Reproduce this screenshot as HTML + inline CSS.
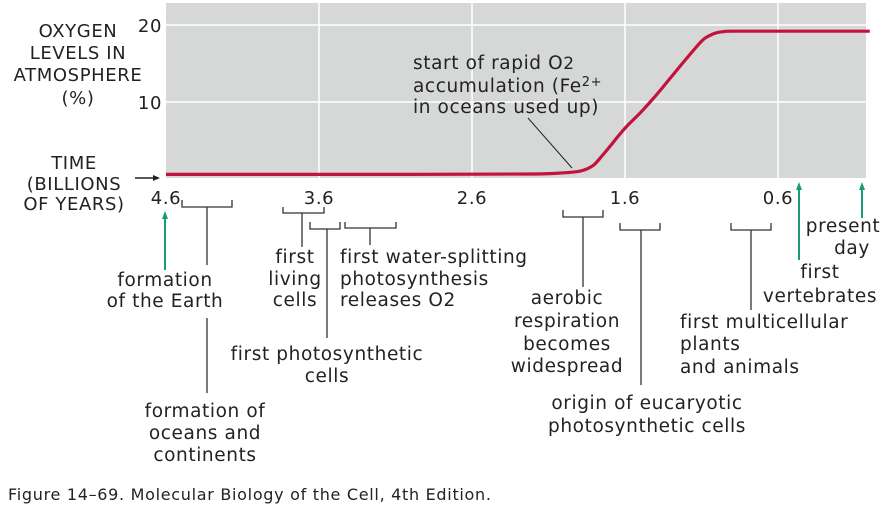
<!DOCTYPE html>
<html><head><meta charset="utf-8">
<style>
html,body{margin:0;padding:0;background:#fff;}
svg{display:block;font-family:"DejaVu Sans","Liberation Sans",sans-serif;letter-spacing:0.6px;}
text{fill:#222;}
</style></head>
<body>
<svg id="chart" width="883" height="510" viewBox="0 0 883 510">
<rect x="166" y="3" width="700" height="175" fill="#d5d8d6"/>
<g id="grid"></g>
<g id="ylabels"></g>
<g id="xlabels"></g>
<path id="o2line" fill="none" stroke="#c4123e" stroke-width="3.2" stroke-linejoin="round"/>
<g font-size="18" text-anchor="middle">
<text x="78" y="37">OXYGEN</text><text x="78" y="59">LEVELS IN</text><text x="78" y="81">ATMOSPHERE</text><text x="78" y="104">(%)</text>
</g>
<g font-size="18" text-anchor="middle">
<text x="74" y="169">TIME</text><text x="74" y="190">(BILLIONS</text><text x="74" y="210">OF YEARS)</text>
</g>
<g><line x1="135" y1="178" x2="156" y2="178" stroke="#222" stroke-width="1.5"/><path d="M160 178 L153 175 L153 181 Z" fill="#222"/></g>
<g font-size="18.5">
<text x="413" y="69">start of rapid O<tspan font-size="17">2</tspan></text>
<text x="413" y="92">accumulation (Fe<tspan font-size="13" dy="-6">2+</tspan></text>
<text x="413" y="113">in oceans used up)</text>
<line x1="528" y1="118" x2="572" y2="168" stroke="#222" stroke-width="1"/>
</g>
<g stroke="#333" stroke-width="1.3" fill="none">
<path d="M182 200 V207 H232 V200 M207 207 V265 M207 318 V393"/>
<path d="M283 207 V213 H324 V207 M302 213 V247"/>
<path d="M310 222 V229 H340 V222 M327 229 V338"/>
<path d="M345 222 V228 H396 V222 M370 228 V245"/>
<path d="M563 210 V217 H603 V210 M583 217 V287"/>
<path d="M620 223 V230 H660 V223 M641 230 V385"/>
<path d="M731 223 V230 H771 V223 M751 230 V310"/>
</g>
<g stroke="#1a9a7a" stroke-width="2" fill="#1a9a7a">
<line x1="165" y1="218" x2="165" y2="270"/><path d="M165 211 L162 219 L168 219 Z" stroke="none"/>
<line x1="799" y1="189" x2="799" y2="260"/><path d="M799 182 L796 190 L802 190 Z" stroke="none"/>
<line x1="862" y1="189" x2="862" y2="218"/><path d="M862 182 L859 190 L865 190 Z" stroke="none"/>
</g>
<g font-size="18.5">
<text text-anchor="middle" x="165" y="286">formation</text><text text-anchor="middle" x="165" y="307">of the Earth</text>
<text text-anchor="middle" x="205" y="417">formation of</text><text text-anchor="middle" x="205" y="439">oceans and</text><text text-anchor="middle" x="205" y="461">continents</text>
<text text-anchor="middle" x="295" y="263">first</text><text text-anchor="middle" x="295" y="285">living</text><text text-anchor="middle" x="295" y="306">cells</text>
<text text-anchor="middle" x="327" y="360">first photosynthetic</text><text text-anchor="middle" x="327" y="382">cells</text>
<text x="340" y="263">first water-splitting</text><text x="340" y="285">photosynthesis</text><text x="340" y="306">releases O2</text>
<text text-anchor="middle" x="567" y="304">aerobic</text><text text-anchor="middle" x="567" y="327">respiration</text><text text-anchor="middle" x="567" y="350">becomes</text><text text-anchor="middle" x="567" y="372">widespread</text>
<text text-anchor="middle" x="647" y="409">origin of eucaryotic</text><text text-anchor="middle" x="647" y="432">photosynthetic cells</text>
<text x="680" y="328">first multicellular</text><text x="680" y="350">plants</text><text x="680" y="373">and animals</text>
<text text-anchor="middle" x="820" y="278">first</text><text text-anchor="middle" x="820" y="302">vertebrates</text>
<text text-anchor="middle" x="843" y="232">present</text><text text-anchor="middle" x="852" y="254">day</text>
</g>
<text x="8" y="500" font-size="16" style="letter-spacing:0.7px">Figure 14–69. Molecular Biology of the Cell, 4th Edition.</text>
</svg>
<script>
const times = [4.6,3.0,2.2,2.0,1.9,1.85,1.8,1.75,1.7,1.6,1.5,1.4,1.3,1.2,1.1,1.05,1.0,0.95,0.9,0.6,0.0];
const oxygen = [0.6,0.6,0.65,0.8,1.0,1.3,1.9,3.0,4.2,6.6,8.6,10.8,13.2,15.6,17.9,18.6,19.0,19.15,19.2,19.2,19.2];
const xTicks = [4.6,3.6,2.6,1.6,0.6];
const xTickLabels = ["4.6","3.6","2.6","1.6","0.6"];
const yTicks = [10,20];
const yTickLabels = ["10","20"];
const NS="http://www.w3.org/2000/svg";
function xs(t){return 166+(4.6-t)*153;}
function ys(v){return 179-7.7*v;}
const grid=document.getElementById('grid');
xTicks.forEach((t,i)=>{ if(i===0) return;
  const l=document.createElementNS(NS,'line');
  l.setAttribute('x1',xs(t));l.setAttribute('x2',xs(t));l.setAttribute('y1',3);l.setAttribute('y2',178);
  l.setAttribute('stroke','#fff');l.setAttribute('stroke-width','1.5');
  
  
  grid.appendChild(l);});
yTicks.forEach(v=>{
  const l=document.createElementNS(NS,'line');
  l.setAttribute('x1',166);l.setAttribute('x2',866);l.setAttribute('y1',ys(v));l.setAttribute('y2',ys(v));
  l.setAttribute('stroke','#fff');l.setAttribute('stroke-width','1.5');
  
  
  grid.appendChild(l);});
const yl=document.getElementById('ylabels');
yTicks.forEach((v,i)=>{
  const t=document.createElementNS(NS,'text');
  t.setAttribute('x',162);t.setAttribute('y',ys(v)+7);t.setAttribute('text-anchor','end');t.setAttribute('font-size','18');
  t.textContent=yTickLabels[i];
  
  
  yl.appendChild(t);});
const xl=document.getElementById('xlabels');
xTicks.forEach((v,i)=>{
  const t=document.createElementNS(NS,'text');
  t.setAttribute('x',xs(v));t.setAttribute('y',204);t.setAttribute('text-anchor','middle');t.setAttribute('font-size','18');
  t.textContent=xTickLabels[i];
  
  
  xl.appendChild(t);});
const pts=times.map((t,i)=>[xs(t),ys(oxygen[i])]);
let d='M'+pts[0][0].toFixed(1)+' '+pts[0][1].toFixed(1);
for(let i=0;i<pts.length-1;i++){
  const p0=pts[Math.max(0,i-1)],p1=pts[i],p2=pts[i+1],p3=pts[Math.min(pts.length-1,i+2)];
  const c1=[p1[0]+(p2[0]-p0[0])/6,p1[1]+(p2[1]-p0[1])/6];
  const c2=[p2[0]-(p3[0]-p1[0])/6,p2[1]-(p3[1]-p1[1])/6];
  d+=' C'+c1[0].toFixed(1)+' '+c1[1].toFixed(1)+' '+c2[0].toFixed(1)+' '+c2[1].toFixed(1)+' '+p2[0].toFixed(1)+' '+p2[1].toFixed(1);
}
document.getElementById('o2line').setAttribute('d',d);
</script>
</body></html>
